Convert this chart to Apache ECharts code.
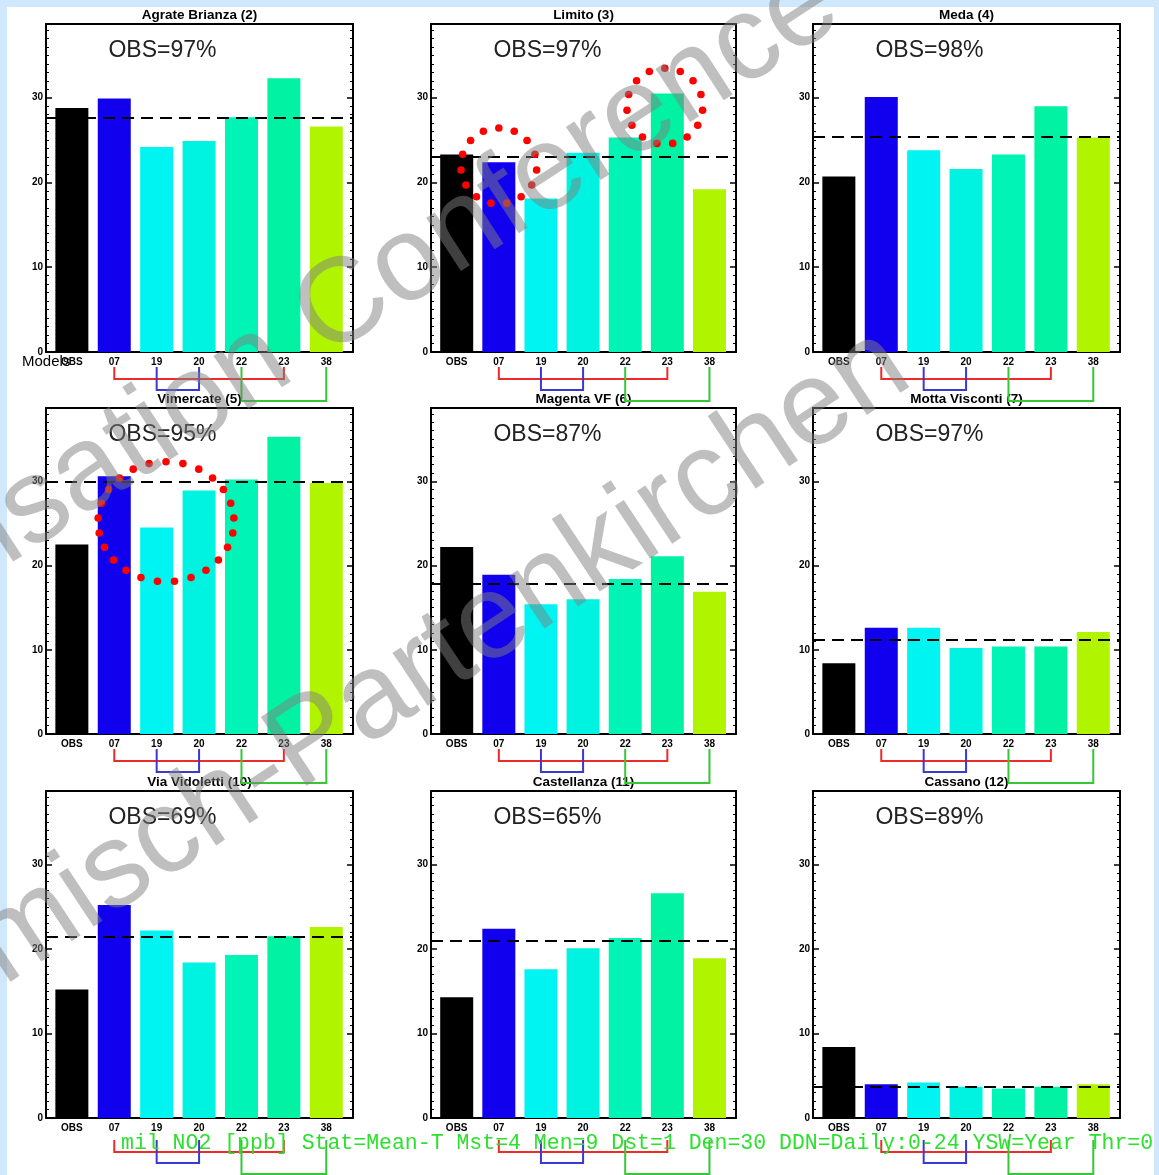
<!DOCTYPE html>
<html>
<head>
<meta charset="utf-8">
<script src="https://cdn.jsdelivr.net/npm/echarts@6/dist/echarts.min.js"></script>
<style>
  html,body{margin:0;padding:0;background:#cfe8fb;}
  #paper{position:absolute;left:7px;top:7px;width:1147px;height:1168px;background:#ffffff;}
  #main{position:absolute;left:0;top:0;width:1159px;height:1175px;}
</style>
</head>
<body>
<div id="paper"></div>
<div id="main"></div>
<script>
// ---------------- DATA ----------------
const categories = ['OBS', '07', '19', '20', '22', '23', '38'];
const stationNames = ['Agrate Brianza (2)', 'Limito (3)', 'Meda (4)',
                      'Vimercate (5)', 'Magenta VF (6)', 'Motta Visconti (7)',
                      'Via Vidoletti (10)', 'Castellanza (11)', 'Cassano (12)'];
const obsCoverage = ['97%', '97%', '98%', '95%', '87%', '97%', '69%', '65%', '89%'];

const agrateBrianza = [28.8, 29.9, 24.2, 24.9, 27.7, 32.3, 26.6];
const limito        = [23.3, 22.4, 18.1, 23.5, 25.3, 30.5, 19.2];
const meda          = [20.7, 30.1, 23.8, 21.6, 23.3, 29.0, 25.3];
const vimercate     = [22.5, 30.6, 24.5, 28.9, 30.2, 35.3, 29.8];
const magentaVF     = [22.2, 18.9, 15.4, 16.0, 18.4, 21.1, 16.9];
const mottaVisconti = [8.4, 12.6, 12.6, 10.2, 10.4, 10.4, 12.1];
const viaVidoletti  = [15.2, 25.2, 22.2, 18.4, 19.3, 21.5, 22.6];
const castellanza   = [14.3, 22.4, 17.6, 20.1, 21.3, 26.6, 18.9];
const cassano       = [8.4, 4.0, 4.2, 3.7, 3.5, 3.7, 4.0];
const stationValues = [agrateBrianza, limito, meda, vimercate, magentaVF,
                       mottaVisconti, viaVidoletti, castellanza, cassano];

// dashed line (model ensemble mean)
const ensembleMean = [27.6, 23.0, 25.4, 29.9, 17.8, 11.2, 21.5, 21.0, 3.7];

const yTickValues = [0, 10, 20, 30];
const bracketPairs = [[1, 5], [2, 3], [4, 6]];   // category index pairs
const modelsLabel = 'Models';
const footerText = 'mil NO2 [ppb] Stat=Mean-T Mst=4 Men=9 Dst=1 Den=30 DDN=Daily:0-24 YSW=Year Thr=0';
const watermarkLines = ['Harmonisation Conference', 'Garmisch-Partenkirchen'];

// ---------------- STYLE / LAYOUT ----------------
const barColors = ['#000000', '#1000ee', '#00f4f2', '#00f2e0', '#00f4b6', '#00f2a2', '#b0f400'];
const bracketColors = ['#f02a2a', '#3a3ad2', '#36c636'];
const bracketDepth = [27, 38, 49];
const bracketStart = 15;
const rowBracketShift = [0, 0, 7];
const colLefts = [46, 431, 813];
const colWidths = [307, 305, 307];
const rowTops = [24, 408, 791];
const rowHeights = [328, 326, 327];
const xMin = -0.61, xMax = 6.63, yMax = 38.7;
// annotation circles (panel index, data-space centre, radii in px, dot count)
const circles = [
  {panel: 1, cx: 1.0,  cy: 21.95, rx: 38, ry: 38, n: 15},
  {panel: 1, cx: 4.94, cy: 29.0,  rx: 38, ry: 38, n: 15},
  {panel: 3, cx: 2.22, cy: 25.2,  rx: 68, ry: 60, n: 25}
];
const watermarkPlacement = [
  {x: 229, y: 382, rot: 33},
  {x: 358, y: 712, rot: 33.5}
];

const FONT = '"Liberation Sans", Arial, sans-serif';

const chart = echarts.init(document.getElementById('main'), null, {renderer: 'canvas'});

const grids = [], xAxes = [], yAxes = [], series = [];
const catIdx = categories.map((_, k) => k);
for (let i = 0; i < 9; i++) {
  const r = Math.floor(i / 3), c = i % 3;
  grids.push({left: colLefts[c], top: rowTops[r], width: colWidths[c], height: rowHeights[r]});
  const axisLine = {show: true, onZero: false, lineStyle: {color: '#000', width: 2}};
  xAxes.push({
    type: 'value', gridIndex: i, position: 'bottom', min: xMin, max: xMax,
    axisLine: axisLine, splitLine: {show: false},
    axisTick: {show: true, inside: true, length: 7, customValues: catIdx,
               lineStyle: {color: '#000', width: 2}},
    axisLabel: {show: true, customValues: catIdx,
                formatter: v => categories[Math.round(v)] || '',
                margin: 5, fontSize: 10, fontWeight: 'bold', color: '#000', fontFamily: FONT}
  });
  xAxes.push({
    type: 'value', gridIndex: i, position: 'top', min: xMin, max: xMax,
    axisLine: axisLine, axisTick: {show: false}, axisLabel: {show: false}, splitLine: {show: false}
  });
  const yCommon = {
    type: 'value', gridIndex: i, min: 0, max: yMax, interval: 10,
    axisLine: axisLine, splitLine: {show: false},
    axisTick: {show: true, inside: true, length: 6, lineStyle: {color: '#000', width: 1.5}},
    minorTick: {show: true, splitNumber: 10, length: 3, lineStyle: {color: '#000', width: 1}}
  };
  yAxes.push(Object.assign({}, yCommon, {
    position: 'left',
    axisLabel: {show: true, margin: 3, fontSize: 10, fontWeight: 'bold', color: '#000', fontFamily: FONT,
                formatter: v => (yTickValues.indexOf(v) >= 0 ? String(v) : '')}
  }));
  yAxes.push(Object.assign({}, yCommon, {position: 'right', axisLabel: {show: false}}));

  series.push({
    type: 'bar', xAxisIndex: 2 * i, yAxisIndex: 2 * i, barWidth: 33,
    animation: false, silent: true,
    data: stationValues[i].map((v, k) => ({value: [k, v], itemStyle: {color: barColors[k]}})),
    markLine: {
      silent: true, symbol: 'none', animation: false,
      label: {show: false},
      lineStyle: {type: [12, 7], color: '#000', width: 2},
      data: [{yAxis: ensembleMean[i]}]
    }
  });
}

chart.setOption({
  animation: false,
  backgroundColor: 'transparent',
  grid: grids, xAxis: xAxes, yAxis: yAxes, series: series
});

// ---------------- annotations ----------------
const toPx = (i, x, y) => chart.convertToPixel({xAxisIndex: 2 * i, yAxisIndex: 2 * i}, [x, y]);
const g = [];
function txt(text, x, y, font, fill, align, z) {
  g.push({type: 'text', x: x, y: y, z: z || 20, silent: true,
    style: {text: text, font: font, fill: fill, align: align || 'center', verticalAlign: 'middle',
            textAlign: align || 'center', textVerticalAlign: 'middle'}});
}
for (let i = 0; i < 9; i++) {
  const r = Math.floor(i / 3), c = i % 3;
  const left = colLefts[c], top = rowTops[r];
  txt(stationNames[i], left + colWidths[c] / 2, top - 9, 'bold 13.5px ' + FONT, '#000');
  txt('OBS=' + obsCoverage[i], left + 116.5, top + 27, '23px ' + FONT, '#222');
  // brackets
  bracketPairs.forEach((p, b) => {
    const a = toPx(i, p[0], 0), e = toPx(i, p[1], 0);
    const y0 = a[1] + bracketStart + rowBracketShift[r];
    const y1 = a[1] + bracketDepth[b] + rowBracketShift[r];
    g.push({type: 'polyline', z: 30, silent: true,
      shape: {points: [[a[0], y0], [a[0], y1], [e[0], y1], [e[0], y0]]},
      style: {stroke: bracketColors[b], lineWidth: 2, fill: null}});
  });
}
txt(modelsLabel, 22, 362, '15px ' + FONT, '#000', 'left');
txt(footerText, 121, 1143, '21.5px "Liberation Mono", monospace', '#2de02d', 'left', 40);

circles.forEach(cd => {
  const ctr = toPx(cd.panel, cd.cx, cd.cy);
  for (let k = 0; k < cd.n; k++) {
    const t = -Math.PI / 2 + 2 * Math.PI * k / cd.n;
    g.push({type: 'circle', z: 90, silent: true,
      shape: {cx: ctr[0] + cd.rx * Math.cos(t), cy: ctr[1] + cd.ry * Math.sin(t), r: 3.8},
      style: {fill: '#ff0000'}});
  }
});

watermarkLines.forEach((w, k) => {
  const p = watermarkPlacement[k];
  g.push({type: 'text', x: p.x, y: p.y, rotation: p.rot * Math.PI / 180, z: 100, silent: true,
    style: {text: w, font: '120px ' + FONT, fill: 'rgba(128,128,128,0.5)',
            align: 'center', verticalAlign: 'middle', textAlign: 'center', textVerticalAlign: 'middle'}});
});

chart.setOption({graphic: g});
</script>
</body>
</html>
